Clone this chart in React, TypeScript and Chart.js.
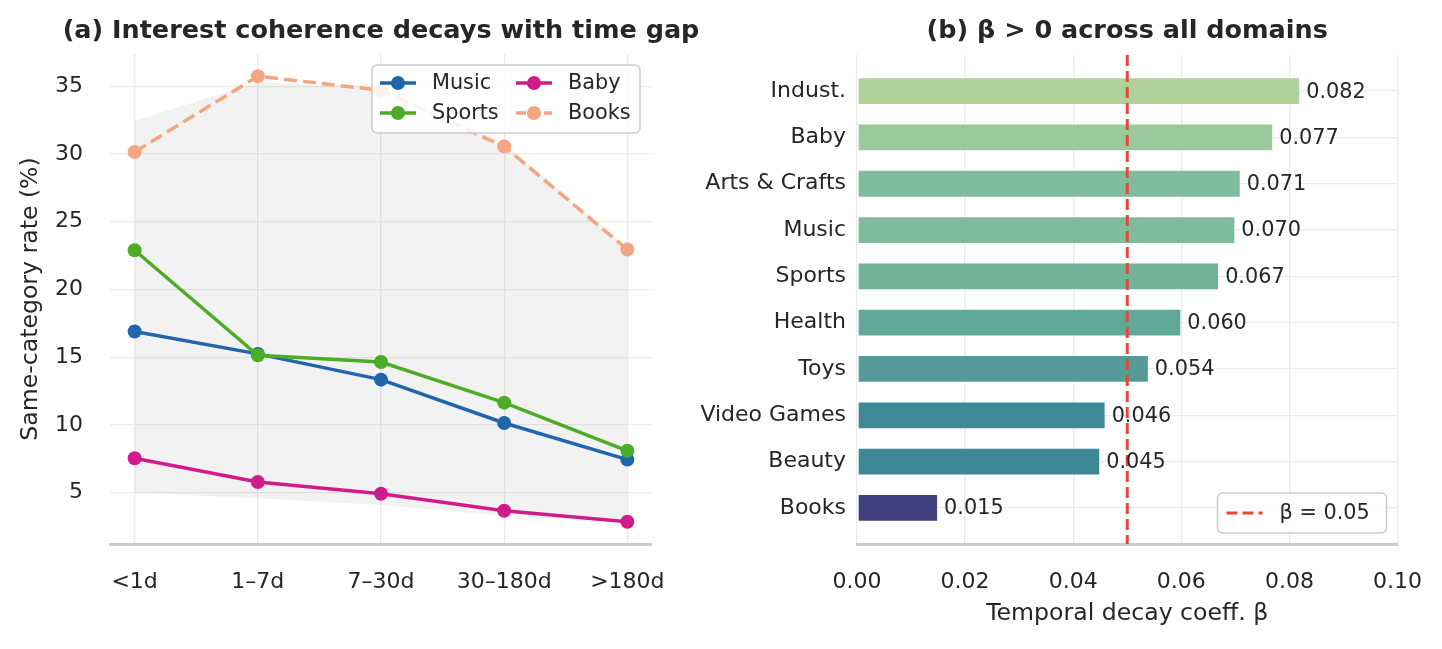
import React, { useEffect, useRef } from 'react';
import { Chart, registerables } from 'chart.js';

Chart.register(...registerables);

// ---------- Panel (a) data ----------
const gapLabels = ['<1d', '1–7d', '7–30d', '30–180d', '>180d'];
const musicRate = [16.9, 15.25, 13.35, 10.15, 7.45];
const sportsRate = [22.9, 15.15, 14.65, 11.65, 8.1];
const babyRate = [7.55, 5.8, 4.93, 3.67, 2.86];
const booksRate = [30.15, 35.74, 34.7, 30.55, 22.95];
const bandUpper = [32.45, 35.3, 34.9, 30.8, 23.1];
const bandLower = [5.0, 4.6, 4.1, 3.3, 2.86];
const rateTicks = [5, 10, 15, 20, 25, 30, 35];

// ---------- Panel (b) data ----------
const domains = ['Indust.', 'Baby', 'Arts & Crafts', 'Music', 'Sports', 'Health', 'Toys', 'Video Games', 'Beauty', 'Books'];
const betaValues = [0.082, 0.077, 0.071, 0.070, 0.067, 0.060, 0.054, 0.046, 0.045, 0.015];
const barColors = ['#afd29b', '#9bc99b', '#80bb9b', '#80bb9b', '#72b39a', '#62a898', '#559c98', '#3e8995', '#3e8895', '#3f3f7e'];
const betaTicks = [0, 0.02, 0.04, 0.06, 0.08, 0.1];
const betaThreshold = 0.05;

const FONT = "'DejaVu Sans', 'Liberation Sans', sans-serif";
const TEXT = '#262626';
const GRID = '#ebebeb';
const SPINE = '#cccccc';

const seriesStyle = [
  { label: 'Music', data: musicRate, color: '#2166ac', dash: [] as number[] },
  { label: 'Sports', data: sportsRate, color: '#4dac26', dash: [] as number[] },
  { label: 'Baby', data: babyRate, color: '#d01c8b', dash: [] as number[] },
  { label: 'Books', data: booksRate, color: '#f4a582', dash: [13, 6] },
];

function drawBox(ctx: CanvasRenderingContext2D, x: number, y: number, w: number, h: number) {
  ctx.save();
  ctx.beginPath();
  (ctx as any).roundRect(x, y, w, h, 5);
  ctx.fillStyle = 'rgba(255,255,255,0.85)';
  ctx.fill();
  ctx.strokeStyle = '#cccccc';
  ctx.lineWidth = 1.5;
  ctx.stroke();
  ctx.restore();
}

function drawTitle(chart: any, text: string) {
  const ctx: CanvasRenderingContext2D = chart.ctx;
  const { left, right } = chart.chartArea;
  ctx.save();
  ctx.font = `bold 25.5px ${FONT}`;
  ctx.fillStyle = TEXT;
  ctx.textAlign = 'center';
  ctx.textBaseline = 'middle';
  ctx.fillText(text, (left + right) / 2, 31);
  ctx.restore();
}

const leftDecor = {
  id: 'leftDecor',
  afterDraw(chart: any) {
    drawTitle(chart, '(a) Interest coherence decays with time gap');
    const ctx: CanvasRenderingContext2D = chart.ctx;
    const { right, top } = chart.chartArea;
    const bx = right - 280;
    const by = top + 11;
    drawBox(ctx, bx, by, 268, 68);
    const colX = [bx + 8, bx + 144];
    const rowY = [by + 18, by + 48];
    seriesStyle.forEach((s, i) => {
      const col = Math.floor(i / 2);
      const row = i % 2;
      const hx = colX[col];
      const hy = rowY[row];
      ctx.save();
      ctx.strokeStyle = s.color;
      ctx.lineWidth = 3.5;
      ctx.setLineDash(s.dash.length ? [10, 4] : []);
      ctx.beginPath();
      ctx.moveTo(hx, hy);
      ctx.lineTo(hx + 36, hy);
      ctx.stroke();
      ctx.setLineDash([]);
      ctx.fillStyle = s.color;
      ctx.beginPath();
      ctx.arc(hx + 18, hy, 7, 0, Math.PI * 2);
      ctx.fill();
      ctx.font = `20.8px ${FONT}`;
      ctx.fillStyle = TEXT;
      ctx.textAlign = 'left';
      ctx.textBaseline = 'middle';
      ctx.fillText(s.label, hx + 52, hy + 1);
      ctx.restore();
    });
  },
};

const rightDecor = {
  id: 'rightDecor',
  afterDatasetsDraw(chart: any) {
    const ctx: CanvasRenderingContext2D = chart.ctx;
    const meta = chart.getDatasetMeta(1);
    ctx.save();
    ctx.font = `20.8px ${FONT}`;
    ctx.fillStyle = TEXT;
    ctx.textAlign = 'left';
    ctx.textBaseline = 'middle';
    meta.data.forEach((bar: any, i: number) => {
      ctx.fillText(betaValues[i].toFixed(3), bar.x + 6, bar.y + 1);
    });
    ctx.restore();
  },
  afterDraw(chart: any) {
    drawTitle(chart, '(b) β > 0 across all domains');
    const ctx: CanvasRenderingContext2D = chart.ctx;
    const { right, bottom } = chart.chartArea;
    const bx = right - 180;
    const by = bottom - 51;
    drawBox(ctx, bx, by, 169, 40);
    ctx.save();
    ctx.strokeStyle = '#e8463a';
    ctx.lineWidth = 3;
    ctx.setLineDash([11, 5]);
    ctx.beginPath();
    ctx.moveTo(bx + 9, by + 20);
    ctx.lineTo(bx + 45, by + 20);
    ctx.stroke();
    ctx.setLineDash([]);
    ctx.font = `20.8px ${FONT}`;
    ctx.fillStyle = TEXT;
    ctx.textAlign = 'left';
    ctx.textBaseline = 'middle';
    ctx.fillText(`β = ${betaThreshold}`, bx + 62, by + 21);
    ctx.restore();
  },
};

export default function App() {
  const leftRef = useRef<HTMLCanvasElement>(null);
  const rightRef = useRef<HTMLCanvasElement>(null);

  useEffect(() => {
    const tickFont = { family: FONT, size: 22 };

    const lineSets: any[] = seriesStyle.map((s, i) => ({
      type: 'line',
      label: s.label,
      data: s.data.map((v, j) => ({ x: j, y: v })),
      borderColor: s.color,
      backgroundColor: s.color,
      borderWidth: 3.5,
      borderDash: s.dash,
      pointRadius: 7,
      pointBorderWidth: 0,
      pointBackgroundColor: s.color,
      fill: false,
      tension: 0,
      order: 3 - i,
    }));
    lineSets.push({
      type: 'line',
      label: 'band-lower',
      data: bandLower.map((v, j) => ({ x: j, y: v })),
      borderWidth: 0,
      pointRadius: 0,
      fill: false,
      order: 10,
    });
    lineSets.push({
      type: 'line',
      label: 'band-upper',
      data: bandUpper.map((v, j) => ({ x: j, y: v })),
      borderWidth: 0,
      pointRadius: 0,
      backgroundColor: 'rgba(0,0,0,0.05)',
      fill: 4,
      order: 11,
    });

    const left = new Chart(leftRef.current!, {
      type: 'line',
      data: { datasets: lineSets },
      options: {
        responsive: false,
        animation: false,
        events: [],
        layout: { padding: { top: 54, right: 68, left: 0, bottom: 0 } },
        plugins: {
          legend: { display: false },
          tooltip: { enabled: false },
          filler: { drawTime: 'beforeDatasetsDraw' },
        } as any,
        scales: {
          x: {
            type: 'linear',
            min: -0.2,
            max: 4.2,
            afterBuildTicks: (s: any) => { s.ticks = gapLabels.map((_, i) => ({ value: i })); },
            afterFit: (s: any) => { s.height = 105; },
            ticks: {
              callback: (v: any) => gapLabels[v as number] ?? '',
              font: tickFont,
              color: TEXT,
              padding: 25,
              maxRotation: 0,
              autoSkip: false,
            },
            grid: { color: GRID, lineWidth: 1.3, drawTicks: false },
            border: { display: true, color: SPINE, width: 3 },
          },
          y: {
            type: 'linear',
            min: 1.22,
            max: 37.38,
            afterBuildTicks: (s: any) => { s.ticks = rateTicks.map((v) => ({ value: v })); },
            afterFit: (s: any) => { s.width = 110; },
            ticks: { font: tickFont, color: TEXT, padding: 27 },
            grid: { color: GRID, lineWidth: 1.3, drawTicks: false },
            border: { display: false },
            title: {
              display: true,
              text: 'Same-category rate (%)',
              font: { family: FONT, size: 23.6 },
              color: TEXT,
              padding: { top: 17, bottom: 0 },
            },
          },
        },
      } as any,
      plugins: [leftDecor],
    });

    const right = new Chart(rightRef.current!, {
      type: 'bar',
      data: {
        datasets: [
          {
            type: 'line',
            label: `β = ${betaThreshold}`,
            data: [{ x: betaThreshold, y: -0.78 }, { x: betaThreshold, y: 9.78 }],
            borderColor: '#e8463a',
            borderWidth: 3,
            borderDash: [11, 5],
            pointRadius: 0,
            fill: false,
            order: 0,
          } as any,
          {
            type: 'bar',
            label: 'beta',
            data: betaValues.map((v, i) => ({ x: v, y: i })),
            backgroundColor: barColors,
            borderColor: 'rgba(255,255,255,0.6)',
            borderWidth: 1,
            borderSkipped: false,
            categoryPercentage: 1,
            barPercentage: 0.6,
            order: 1,
          },
        ],
      },
      options: {
        indexAxis: 'y',
        responsive: false,
        animation: false,
        events: [],
        layout: { padding: { top: 55, right: 40, left: 0, bottom: 0 } },
        plugins: { legend: { display: false }, tooltip: { enabled: false } },
        scales: {
          x: {
            type: 'linear',
            min: 0,
            max: 0.1,
            offset: false,
            afterBuildTicks: (s: any) => { s.ticks = betaTicks.map((v) => ({ value: v })); },
            afterFit: (s: any) => { s.height = 105; },
            ticks: {
              callback: (v: any) => Number(v).toFixed(2),
              font: tickFont,
              color: TEXT,
              padding: 25,
              maxRotation: 0,
              autoSkip: false,
            },
            grid: { color: GRID, lineWidth: 1.3, drawTicks: false, offset: false },
            border: { display: true, color: SPINE, width: 3 },
            title: {
              display: true,
              text: 'Temporal decay coeff. β',
              font: { family: FONT, size: 23.6 },
              color: TEXT,
              padding: { top: 0, bottom: 21 },
            },
          },
          y: {
            type: 'linear',
            reverse: true,
            min: -0.78,
            max: 9.78,
            offset: false,
            afterBuildTicks: (s: any) => { s.ticks = domains.map((_, i) => ({ value: i })); },
            afterFit: (s: any) => { s.width = 212; },
            ticks: {
              callback: (v: any) => domains[v as number] ?? '',
              font: tickFont,
              color: TEXT,
              padding: 11,
              autoSkip: false,
            },
            grid: { color: GRID, lineWidth: 1.3, drawTicks: false, offset: false },
            border: { display: false },
          },
        },
      } as any,
      plugins: [rightDecor],
    });

    return () => {
      left.destroy();
      right.destroy();
    };
  }, []);

  return (
    <div style={{ position: 'fixed', left: 0, top: 0, width: 1442, height: 649, background: '#fff', overflow: 'hidden' }}>
      <canvas ref={leftRef} width={720} height={649} style={{ position: 'absolute', left: 0, top: 0, width: 720, height: 649 }} />
      <canvas ref={rightRef} width={802} height={649} style={{ position: 'absolute', left: 645, top: 0, width: 802, height: 649 }} />
    </div>
  );
}
